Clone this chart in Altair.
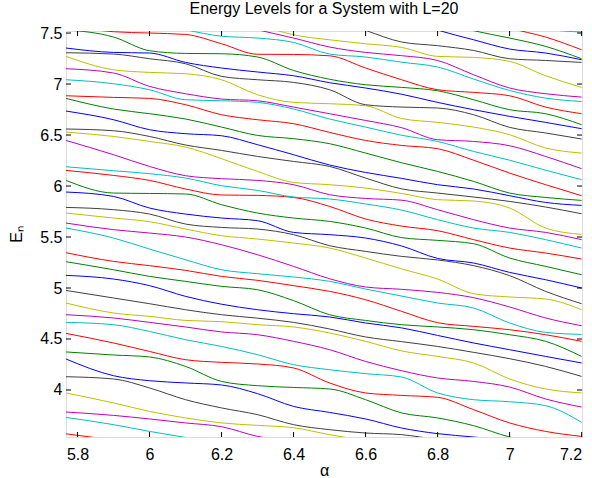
import altair as alt
import pandas as pd

X = [5.768, 5.9, 6.0, 6.1, 6.2, 6.3, 6.4, 6.5, 6.6, 6.7, 6.8, 6.9, 7.0, 7.1, 7.2]

# energy levels, sorted from the lowest one visible (values outside the frame get clipped)
L01 = [3.57, 3.51, 3.46, 3.41, 3.36, 3.31, 3.26, 3.21, 3.16, 3.11, 3.06, 3.01, 2.96, 2.91, 2.86]
L02 = [3.731, 3.660, 3.594, 3.535, 3.48, 3.43, 3.38, 3.33, 3.28, 3.23, 3.18, 3.13, 3.08, 3.03, 2.98]
L03 = [3.784, 3.751, 3.716, 3.677, 3.640, 3.545, 3.493, 3.45, 3.41, 3.37, 3.33, 3.29, 3.25, 3.21, 3.17]
L04 = [3.971, 3.873, 3.790, 3.726, 3.677, 3.653, 3.630, 3.562, 3.503, 3.45, 3.40, 3.35, 3.30, 3.25, 3.20]
L05 = [4.130, 4.108, 4.020, 3.905, 3.824, 3.758, 3.660, 3.611, 3.578, 3.562, 3.513, 3.46, 3.41, 3.36, 3.31]
L06 = [4.304, 4.140, 4.091, 4.069, 4.049, 3.964, 3.839, 3.780, 3.716, 3.627, 3.572, 3.539, 3.503, 3.45, 3.40]
L07 = [4.373, 4.343, 4.324, 4.231, 4.084, 4.042, 4.025, 4.010, 3.905, 3.775, 3.726, 3.650, 3.539, 3.474, 3.42]
L08 = [4.555, 4.461, 4.378, 4.297, 4.271, 4.255, 4.216, 4.069, 3.971, 3.947, 3.928, 3.807, 3.677, 3.594, 3.545]
L09 = [4.663, 4.640, 4.574, 4.493, 4.427, 4.346, 4.248, 4.199, 4.160, 4.127, 3.971, 3.905, 3.885, 3.846, 3.683]
L10 = [4.738, 4.706, 4.663, 4.618, 4.569, 4.542, 4.477, 4.395, 4.280, 4.189, 4.118, 4.084, 4.029, 3.912, 3.833]
L11 = [4.853, 4.755, 4.722, 4.682, 4.670, 4.640, 4.618, 4.559, 4.477, 4.383, 4.329, 4.265, 4.108, 4.010, 3.971]
L12 = [4.976, 4.902, 4.846, 4.787, 4.738, 4.704, 4.663, 4.598, 4.520, 4.474, 4.427, 4.369, 4.307, 4.231, 4.133]
L13 = [5.124, 5.088, 5.023, 4.918, 4.841, 4.787, 4.748, 4.716, 4.657, 4.609, 4.535, 4.461, 4.395, 4.329, 4.265]
L14 = [5.258, 5.179, 5.114, 5.065, 5.016, 4.983, 4.876, 4.738, 4.682, 4.640, 4.618, 4.591, 4.542, 4.477, 4.329]
L15 = [5.346, 5.261, 5.219, 5.173, 5.114, 5.075, 5.023, 4.967, 4.885, 4.771, 4.660, 4.624, 4.591, 4.542, 4.477]
L16 = [5.588, 5.490, 5.382, 5.277, 5.179, 5.140, 5.108, 5.065, 4.990, 4.921, 4.853, 4.804, 4.657, 4.565, 4.545]
L17 = [5.637, 5.572, 5.539, 5.500, 5.424, 5.326, 5.212, 5.091, 5.010, 4.987, 4.957, 4.905, 4.814, 4.706, 4.630]
L18 = [5.735, 5.686, 5.650, 5.578, 5.513, 5.480, 5.441, 5.392, 5.294, 5.187, 5.088, 4.944, 4.912, 4.892, 4.787]
L19 = [5.790, 5.768, 5.725, 5.627, 5.594, 5.578, 5.523, 5.415, 5.359, 5.310, 5.275, 5.219, 5.121, 4.967, 4.846]
L20 = [5.941, 5.898, 5.784, 5.725, 5.686, 5.660, 5.545, 5.523, 5.490, 5.412, 5.290, 5.245, 5.153, 5.081, 5.000]
L21 = [6.055, 5.931, 5.927, 5.922, 5.817, 5.735, 5.686, 5.653, 5.588, 5.494, 5.467, 5.434, 5.294, 5.212, 5.130]
L22 = [6.153, 6.104, 6.055, 5.971, 5.912, 5.908, 5.888, 5.800, 5.677, 5.607, 5.562, 5.474, 5.392, 5.343, 5.284]
L23 = [6.189, 6.150, 6.121, 6.078, 6.003, 5.957, 5.892, 5.873, 5.824, 5.764, 5.670, 5.588, 5.545, 5.474, 5.392]
L24 = [6.447, 6.307, 6.192, 6.101, 6.072, 6.055, 6.013, 5.915, 5.878, 5.861, 5.768, 5.670, 5.588, 5.545, 5.474]
L25 = [6.529, 6.486, 6.437, 6.382, 6.268, 6.143, 6.035, 6.013, 5.980, 5.927, 5.866, 5.853, 5.784, 5.588, 5.526]
L26 = [6.559, 6.542, 6.486, 6.402, 6.349, 6.290, 6.241, 6.192, 6.078, 5.972, 5.931, 5.892, 5.849, 5.794, 5.728]
L27 = [6.735, 6.650, 6.552, 6.513, 6.493, 6.405, 6.307, 6.206, 6.133, 6.075, 6.013, 5.971, 5.905, 5.839, 5.810]
L28 = [6.859, 6.755, 6.709, 6.657, 6.578, 6.496, 6.464, 6.415, 6.323, 6.228, 6.143, 6.045, 5.931, 5.888, 5.859]
L29 = [6.885, 6.869, 6.859, 6.797, 6.699, 6.650, 6.611, 6.526, 6.447, 6.398, 6.366, 6.253, 6.127, 6.013, 5.905]
L30 = [7.042, 7.003, 6.944, 6.846, 6.836, 6.820, 6.755, 6.657, 6.578, 6.498, 6.437, 6.339, 6.253, 6.155, 6.062]
L31 = [7.150, 7.108, 6.977, 6.905, 6.853, 6.836, 6.774, 6.709, 6.643, 6.572, 6.454, 6.437, 6.395, 6.290, 6.170]
L32 = [7.271, 7.140, 7.114, 7.101, 7.042, 6.895, 6.820, 6.807, 6.787, 6.662, 6.624, 6.578, 6.503, 6.373, 6.323]
L33 = [7.307, 7.294, 7.248, 7.199, 7.075, 7.042, 7.016, 6.944, 6.797, 6.774, 6.765, 6.699, 6.575, 6.520, 6.461]
L34 = [7.353, 7.310, 7.304, 7.212, 7.157, 7.118, 7.081, 7.013, 6.961, 6.900, 6.820, 6.748, 6.683, 6.624, 6.562]
L35 = [7.532, 7.461, 7.327, 7.300, 7.297, 7.265, 7.133, 7.047, 6.993, 6.967, 6.934, 6.846, 6.748, 6.709, 6.601]
L36 = [7.572, 7.513, 7.500, 7.486, 7.395, 7.292, 7.290, 7.277, 7.157, 7.042, 6.944, 6.918, 6.885, 6.774, 6.709]
L37 = [7.728, 7.670, 7.611, 7.532, 7.469, 7.451, 7.408, 7.294, 7.265, 7.214, 7.167, 7.049, 6.937, 6.862, 6.829]
L38 = [7.925, 7.866, 7.787, 7.709, 7.611, 7.532, 7.451, 7.363, 7.310, 7.278, 7.231, 7.091, 6.961, 6.905, 6.872]
L39 = [8.121, 8.042, 7.964, 7.885, 7.768, 7.591, 7.483, 7.434, 7.395, 7.359, 7.271, 7.261, 7.222, 7.081, 6.967]
L40 = [8.317, 8.238, 8.160, 8.081, 8.003, 7.905, 7.787, 7.650, 7.526, 7.412, 7.376, 7.329, 7.248, 7.231, 7.212]
L41 = [8.50, 8.45, 8.40, 8.35, 8.30, 8.20, 8.10, 8.00, 7.85, 7.650, 7.529, 7.434, 7.343, 7.304, 7.238]
L42 = [8.70, 8.65, 8.60, 8.55, 8.50, 8.40, 8.30, 8.20, 8.05, 7.72, 7.62, 7.523, 7.451, 7.369, 7.248]
L43 = [8.90, 8.85, 8.80, 8.75, 8.70, 8.60, 8.50, 8.40, 8.25, 8.05, 7.90, 7.70, 7.552, 7.461, 7.336]
L44 = [9.10, 9.05, 9.00, 8.95, 8.90, 8.80, 8.70, 8.60, 8.45, 8.25, 8.10, 7.90, 7.70, 7.542, 7.510]

LEVELS = [L01, L02, L03, L04, L05, L06, L07, L08, L09, L10, L11, L12, L13, L14, L15,
          L16, L17, L18, L19, L20, L21, L22, L23, L24, L25, L26, L27, L28, L29, L30,
          L31, L32, L33, L34, L35, L36, L37, L38, L39, L40, L41, L42, L43, L44]

# MATLAB default colour order b g r c m y k
COLOR_NAMES = ["b", "g", "r", "c", "m", "y", "k"]
COLOR_HEX = ["#0000ff", "#008000", "#ff0000", "#00bfbf", "#bf00bf", "#bfbf00", "#404040"]

X_TICKS = [5.8, 6.0, 6.2, 6.4, 6.6, 6.8, 7.0, 7.2]
Y_TICKS = [4.0, 4.5, 5.0, 5.5, 6.0, 6.5, 7.0, 7.5]

rows = []
for i, ys in enumerate(LEVELS, start=1):
    c = COLOR_NAMES[(i + 1) % 7]
    for x, e in zip(X, ys):
        rows.append({"alpha": x, "E": e, "level": i, "c": c})
df = pd.DataFrame(rows)

W, H = 516, 406
FONT = "Liberation Sans"
xscale = alt.Scale(domain=[5.768, 7.201], nice=False, zero=False)
yscale = alt.Scale(domain=[3.539, 7.52], nice=False, zero=False)

x_axis = alt.Axis(values=X_TICKS, format="~g", title="α", grid=False, ticks=False,
                  tickSize=0, domain=False, labelPadding=9, labelFont=FONT,
                  labelFontSize=16, labelColor="black", titleFont=FONT,
                  titleFontSize=16, titleFontWeight="normal", titleColor="black",
                  titleBaseline="alphabetic", titleY=38)
y_axis = alt.Axis(values=Y_TICKS, format="~g", title="Eₙ", grid=False, ticks=False,
                  tickSize=0, domain=False, labelPadding=4, labelFont=FONT,
                  labelFontSize=16, labelColor="black", titleFont=FONT,
                  titleFontSize=16, titleFontWeight="normal", titleColor="black",
                  titleBaseline="alphabetic", titleX=-45, titleY=203, titleAngle=270)

lines = alt.Chart(df).mark_line(strokeWidth=1, interpolate="monotone", clip=True).encode(
    x=alt.X("alpha:Q", scale=xscale, axis=x_axis, title="α"),
    y=alt.Y("E:Q", scale=yscale, axis=y_axis, title="Eₙ"),
    color=alt.Color("c:N", scale=alt.Scale(domain=COLOR_NAMES, range=COLOR_HEX), legend=None),
    detail="level:N",
)

xt = pd.DataFrame({"alpha": X_TICKS})
yt = pd.DataFrame({"E": Y_TICKS})

tick_bottom = alt.Chart(xt).mark_rule(color="black", strokeWidth=1).encode(
    x=alt.X("alpha:Q", scale=xscale, axis=x_axis, title="α"), y=alt.value(H), y2=alt.value(H - 5))
tick_top = alt.Chart(xt).mark_rule(color="black", strokeWidth=1).encode(
    x=alt.X("alpha:Q", scale=xscale, axis=x_axis, title="α"), y=alt.value(0), y2=alt.value(5))
tick_left = alt.Chart(yt).mark_rule(color="black", strokeWidth=1).encode(
    y=alt.Y("E:Q", scale=yscale, axis=y_axis, title="Eₙ"), x=alt.value(0), x2=alt.value(5))
tick_right = alt.Chart(yt).mark_rule(color="black", strokeWidth=1).encode(
    y=alt.Y("E:Q", scale=yscale, axis=y_axis, title="Eₙ"), x=alt.value(W), x2=alt.value(W - 5))

chart = alt.layer(lines, tick_bottom, tick_top, tick_left, tick_right).properties(
    width=W, height=H,
    title=alt.TitleParams("Energy Levels for a System with L=20", font=FONT, fontSize=16,
                          fontWeight="normal", color="black", anchor="middle",
                          frame="group", baseline="alphabetic", offset=13.5, dy=18),
    autosize=alt.AutoSizeParams(type="none"),
    padding={"left": 66, "top": 31, "right": 10, "bottom": 41},
).configure_view(stroke="black", strokeWidth=1).configure(background="white")

chart.save("out.html", embed_options={"renderer": "svg", "actions": False})
